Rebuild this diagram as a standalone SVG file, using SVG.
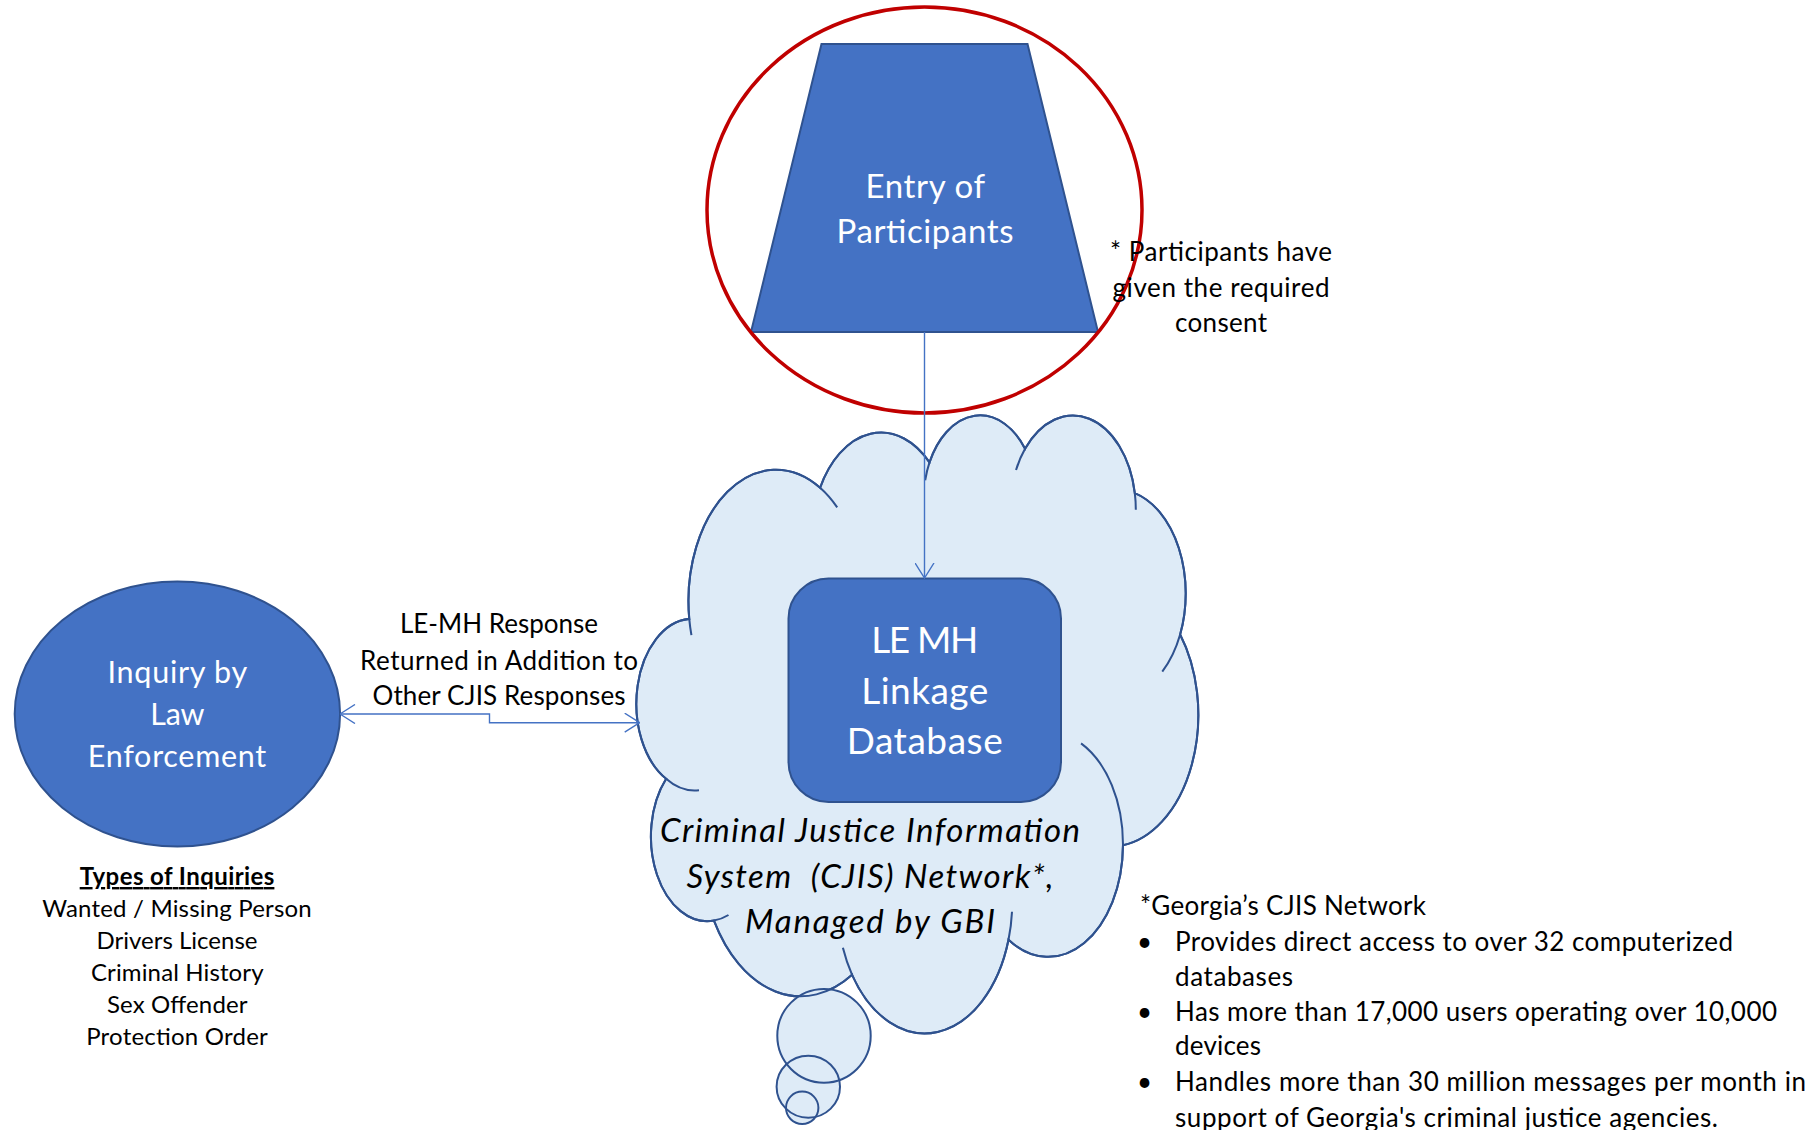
<svg xmlns="http://www.w3.org/2000/svg" width="1819" height="1130" viewBox="0 0 1819 1130">
<style>
  .shape{fill:#4472C4;stroke:#2F528F;stroke-width:2}
  .cloud{fill:#DEEBF7;stroke:#2F528F;stroke-width:2}
  .inner{fill:none;stroke:#2F528F;stroke-width:2}
  .conn{fill:none;stroke:#4472C4;stroke-width:1.4}
  .wt{font-family:Lato,'Liberation Sans',sans-serif;fill:#FFFFFF}
  .bt{font-family:Lato,'Liberation Sans',sans-serif;fill:#000000}
</style>
<defs>
  <marker id="arrow" viewBox="0 0 16 20" refX="15.5" refY="10" markerWidth="16" markerHeight="20" markerUnits="userSpaceOnUse" orient="auto-start-reverse">
    <path d="M0.5,0.5 L15.5,10 L0.5,19.5" fill="none" stroke="#4472C4" stroke-width="1.4"/>
  </marker>
</defs>
<rect width="1819" height="1130" fill="#FFFFFF"/>

<g id="cjis-network">
  <g transform="matrix(1.0169 0 0 1.0108 -12.41 -10.86)">
    <path class="cloud" d="M690,623 A86 130 0 0 1 818.69,493.32 A67.9 102.8 0 0 1 926.26,468.22 A55.6 84.1 0 0 1 1020.22,454.76 A61.8 93.3 0 0 1 1128.17,498.56 A67.9 102.9 0 0 1 1172.73,638.4 A86.3 130.4 0 0 1 1116.53,846.96 A73.6 111.3 0 0 1 1003.95,940.48 A86 130.3 0 0 1 850.14,975.14 A98.3 149.1 0 0 1 714.29,921.49 A55.5 83.7 0 0 1 667.27,781.19 A55.3 84.1 0 0 1 690,623 Z"/>
  </g>
  <ellipse cx="824" cy="1035.8" rx="46.7" ry="46.9" fill="#DEEBF7"/>
  <ellipse cx="808.3" cy="1086.7" rx="31.7" ry="31" fill="#DEEBF7"/>
  <ellipse cx="802.2" cy="1107.8" rx="16.2" ry="16.2" fill="#DEEBF7"/>
  <g transform="matrix(1.0169 0 0 1.0108 -12.41 -10.86)">
    <path class="inner" d="M690,623 A86 130 0 0 1 818.69,493.32 A67.9 102.8 0 0 1 926.26,468.22 A55.6 84.1 0 0 1 1020.22,454.76 A61.8 93.3 0 0 1 1128.17,498.56 A67.9 102.9 0 0 1 1172.73,638.4 A86.3 130.4 0 0 1 1116.53,846.96 A73.6 111.3 0 0 1 1003.95,940.48 A86 130.3 0 0 1 850.14,975.14 A98.3 149.1 0 0 1 714.29,921.49 A55.5 83.7 0 0 1 667.27,781.19 A55.3 84.1 0 0 1 690,623 Z"/>
    <path class="inner" d="M690,623 A86 130 0 0 0 692.14,639.13 M818.69,493.32 A86 130 0 0 1 835.49,512.75 M926.26,468.22 A55.6 84.1 0 0 0 921.99,485.85 M1020.22,454.76 A61.8 93.3 0 0 0 1011.34,475.67 M1128.17,498.56 A61.8 93.3 0 0 1 1129.15,515.1 M1172.73,638.4 A67.9 102.9 0 0 1 1155.17,675.12 M1116.53,846.96 A73.6 111.3 0 0 0 1075.31,746.12 M1003.95,940.48 A86 130.3 0 0 0 1007.39,912.72 M850.14,975.14 A86 130.3 0 0 1 841.09,948.35 M728.6,915.96 A55.5 83.7 0 0 1 714.29,921.49 M699.59,792.48 A55.3 84.1 0 0 1 667.27,781.19"/>
  </g>
  <ellipse class="inner" cx="824" cy="1035.8" rx="46.7" ry="46.9"/>
  <ellipse class="inner" cx="808.3" cy="1086.7" rx="31.7" ry="31"/>
  <ellipse class="inner" cx="802.2" cy="1107.8" rx="16.2" ry="16.2"/>
  <text class="bt" font-size="33" font-style="italic">
    <tspan x="660" y="842" textLength="420">Criminal Justice Information</tspan>
    <tspan x="686.5" y="887.5" textLength="367">System&#160; (CJIS) Network*,</tspan>
    <tspan x="745" y="932.5" textLength="250">Managed by GBI</tspan>
  </text>
</g>

<g id="le-mh-linkage-database">
  <rect class="shape" x="788.5" y="578.5" width="272.5" height="223.5" rx="40" ry="40"/>
  <text class="wt" font-size="37">
    <tspan x="871.2" y="653" textLength="107">LE MH</tspan>
    <tspan x="861.2" y="704" textLength="127">Linkage</tspan>
    <tspan x="846.7" y="754" textLength="156">Database</tspan>
  </text>
</g>

<g id="entry-of-participants">
  <polygon class="shape" points="821.5,44 1027.5,44 1098,332 751,332"/>
  <text class="wt" font-size="33">
    <tspan x="865.5" y="198" textLength="119">Entry of</tspan>
    <tspan x="836.5" y="243" textLength="177">Participants</tspan>
  </text>
</g>

<g id="consent-highlight">
  <ellipse cx="924.5" cy="210" rx="217.5" ry="203" fill="none" stroke="#C00000" stroke-width="3.5"/>
</g>

<g id="consent-note">
  <text class="bt" font-size="26">
    <tspan x="1110" y="261" textLength="222">* Participants have</tspan>
    <tspan x="1112.5" y="297" textLength="217">given the required</tspan>
    <tspan x="1175" y="332" textLength="92">consent</tspan>
  </text>
</g>

<g id="inquiry-by-law-enforcement">
  <ellipse class="shape" cx="177.4" cy="714" rx="162.7" ry="132.5"/>
  <text class="wt" font-size="30.5">
    <tspan x="107.5" y="683" textLength="139">Inquiry by</tspan>
    <tspan x="150.3" y="725" textLength="53.5">Law</tspan>
    <tspan x="87.8" y="767" textLength="178.5">Enforcement</tspan>
  </text>
</g>

<g id="types-of-inquiries">
  <text class="bt" font-size="24">
    <tspan x="79.7" y="885" font-weight="bold" text-decoration="underline" textLength="194.7">Types of Inquiries</tspan>
    <tspan x="42.3" y="916.5" textLength="269.4">Wanted / Missing Person</tspan>
    <tspan x="96.5" y="948.8" textLength="161">Drivers License</tspan>
    <tspan x="91" y="980.8" textLength="172">Criminal History</tspan>
    <tspan x="107" y="1012.5" textLength="140">Sex Offender</tspan>
    <tspan x="86.2" y="1044.8" textLength="181.6">Protection Order</tspan>
  </text>
</g>

<g id="georgia-cjis-note">
  <text class="bt" font-size="26">
    <tspan x="1140" y="914.5" textLength="286">*Georgia’s CJIS Network</tspan>
    <tspan x="1137" y="951">•</tspan>
    <tspan x="1175" y="951" textLength="558">Provides direct access to over 32 computerized</tspan>
    <tspan x="1175" y="985.5" textLength="118">databases</tspan>
    <tspan x="1137" y="1020.5">•</tspan>
    <tspan x="1175" y="1020.5" textLength="602">Has more than 17,000 users operating over 10,000</tspan>
    <tspan x="1175" y="1055" textLength="86">devices</tspan>
    <tspan x="1137" y="1090.5">•</tspan>
    <tspan x="1175" y="1090.5" textLength="631">Handles more than 30 million messages per month in</tspan>
    <tspan x="1175" y="1127" textLength="543">support of Georgia's criminal justice agencies.</tspan>
  </text>
</g>

<g id="connectors">
  <path class="conn" d="M924.5,332 L924.5,578" marker-end="url(#arrow)"/>
  <path class="conn" d="M340,714 L489.5,714 L489.5,722.7 L639.7,722.7" marker-start="url(#arrow)" marker-end="url(#arrow)"/>
  <text class="bt" font-size="26">
    <tspan x="400" y="633" textLength="198">LE-MH Response</tspan>
    <tspan x="360" y="670" textLength="278">Returned in Addition to</tspan>
    <tspan x="372.5" y="705" textLength="253">Other CJIS Responses</tspan>
  </text>
</g>
</svg>
